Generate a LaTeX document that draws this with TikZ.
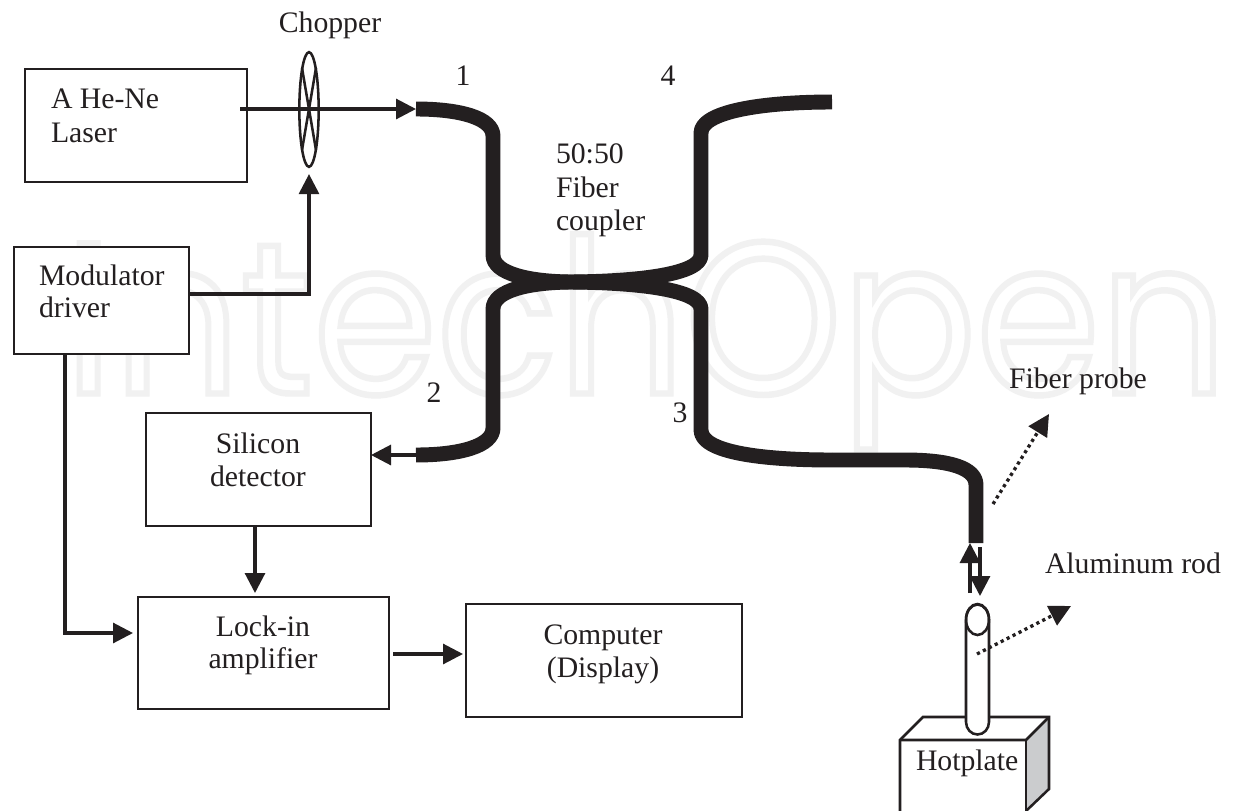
\documentclass[tikz,border=0pt]{standalone}
\usepackage{fontspec}
\setmainfont{Liberation Serif}
\newfontfamily\wmfont{Poppins}
\usetikzlibrary{arrows.meta,calc,shapes.geometric}
\definecolor{ink}{HTML}{231F20}
\definecolor{plategrey}{HTML}{CBCCCE}
\tikzset{
  boxnode/.style={draw=ink,line width=1.9pt,fill=white,inner sep=0pt,outer sep=0pt},
  lbl/.style={inner sep=0pt,outer sep=0pt,text=ink,font=\fontsize{22.3pt}{26pt}\selectfont},
  conn/.style={draw=ink,line width=2.3pt,-{Triangle[length=15pt,width=15pt,fill=ink]},shorten >=0pt},
  plainline/.style={draw=ink,line width=1.9pt},
  fiber/.style={draw=ink,line width=11.2pt,line cap=butt,line join=round},
  dotarrow/.style={draw=ink,line width=2.5pt,dash pattern=on 2.4pt off 2.6pt,-{Triangle[length=16pt,width=16pt,fill=ink]}},
}
\begin{document}
\begin{tikzpicture}[x=0.75pt,y=-0.75pt]
\useasboundingbox (0,0) rectangle (1233,811);
\clip (0,0) rectangle (1233,811);
\fill[white] (0,0) rectangle (1233,811);
% watermark
\node[inner sep=0pt,anchor=base west] (wm) at (64,393.5) {\resizebox{872pt}{119.5pt}{\wmfont\special{pdf:code q 1 Tr 0.3 w 0.945 0.945 0.945 RG}IntechOpen\special{pdf:code Q}}};
% boxes
\node[boxnode,minimum width=166.5pt,minimum height=84.75pt] (laser) at (136,125.5) {};
\node[boxnode,minimum width=131.25pt,minimum height=80.25pt] (mod) at (101.5,300.5) {};
\node[boxnode,minimum width=168.75pt,minimum height=84.75pt] (si) at (258.5,469.5) {};
\node[boxnode,minimum width=188.25pt,minimum height=84pt] (lock) at (263.5,653) {};
\node[boxnode,minimum width=207pt,minimum height=84.75pt] (comp) at (604,660.5) {};
% fiber end coordinates
\coordinate (f1) at (416,109);
\coordinate (f2) at (416,455);
\coordinate (f3) at (832,460);
\coordinate (f4) at (832,102);
\coordinate (fc) at (570,282);
\coordinate (probe) at (976,543);
% fibers
\draw[fiber] (f1) .. controls (460,109) and (493,118) .. (493,136) -- (493,255)
  .. controls (493,274) and (530,281.5) .. (fc);
\draw[fiber] (f4) .. controls (760,102) and (701,112) .. (701,133) -- (701,255)
  .. controls (701,274) and (640,281.5) .. (fc);
\draw[fiber] (f2) .. controls (460,455) and (493,446) .. (493,428) -- (493,309)
  .. controls (493,290) and (530,282.5) .. (fc);
\draw[fiber] (f3) .. controls (760,460) and (701,452) .. (701,430) -- (701,309)
  .. controls (701,290) and (640,282.5) .. (fc);
\draw[fiber] (f3) -- (905,460) .. controls (950,460) and (976,468) .. (976,485) -- (probe);
% chopper
\node[draw=ink,line width=1.9pt,ellipse,inner sep=0pt,minimum width=14.5pt,minimum height=86pt] (chop) at (309,109.5) {};
\draw[plainline] (302,68) -- (316,150);
\draw[plainline] (316,68) -- (302,150);
% connectors
\draw[conn] ($(laser.east)+(-7,-16.5)$) -- (f1);
\draw[conn] ($(mod.east)+(0,-6.5)$) -| ($(chop.south)+(0,6)$);
\draw[conn] ($(mod.south)+(-36.5,0)$) |- ($(lock.west)+(-5,-20)$);
\draw[conn] (f2) -- ($(si.east)+(0,-14.5)$);
\draw[conn] ($(si.south)+(-3.5,0)$) -- ($(lock.north)+(-8.5,-4)$);
\draw[conn] ($(lock.east)+(4,1)$) -- ($(comp.west)+(-3,-6.5)$);
% hotplate
\fill[plategrey] (1026,740) -- (1049,717) -- (1049,789) -- (1026,810) -- cycle;
\draw[plainline,line join=miter] (900,815) -- (900,740) -- (923,717) -- (1049,717) -- (1049,789) -- (1026,811);
\draw[plainline] (900,740) -- (1026,740) -- (1049,717);
\draw[plainline] (1026,740) -- (1026,815);
% rod
\draw[plainline,fill=white] (966,620) arc[start angle=180,end angle=360,x radius=11.5,y radius=15.5]
  -- (989,722) arc[start angle=0,end angle=180,x radius=11.5,y radius=12.5] -- cycle;
\node[draw=ink,line width=1.9pt,ellipse,inner sep=0pt,minimum width=17.25pt,minimum height=23.25pt] (rodtop) at (977.5,619.5) {};
\coordinate (rodmid) at (977,654);
\coordinate (probeside) at (993,504);
\coordinate (probetip) at (1049,414);
\coordinate (rodtip) at (1071,606);
% probe arrows
\draw[conn] (970,593) -- (970,543);
\draw[conn] (980,547) -- (980,596);
\draw[dotarrow] (probeside) -- (probetip);
\draw[dotarrow] (rodmid) -- (rodtip);
% labels
\node[lbl,anchor=base] (tchop) at (330,32) {Chopper};
\node[lbl,anchor=base west] (tl1) at (51,108) {A He-Ne};
\node[lbl,anchor=base west] (tl2) at (51,142) {Laser};
\node[lbl,anchor=base west] (tm1) at (39,285) {Modulator};
\node[lbl,anchor=base west] (tm2) at (39,317) {driver};
\node[lbl,anchor=base] (n1) at (463,85) {1};
\node[lbl,anchor=base] (n4) at (668,85) {4};
\node[lbl,anchor=base] (n2) at (434,402) {2};
\node[lbl,anchor=base] (n3) at (680,422) {3};
\node[lbl,anchor=base west] (tf1) at (556,163) {50:50};
\node[lbl,anchor=base west] (tf2) at (556,197) {Fiber};
\node[lbl,anchor=base west] (tf3) at (556,230) {coupler};
\node[lbl,anchor=base] (ts1) at (258,453) {Silicon};
\node[lbl,anchor=base] (ts2) at (258,486) {detector};
\node[lbl,anchor=base] (ta1) at (263,636) {Lock-in};
\node[lbl,anchor=base] (ta2) at (263,668) {amplifier};
\node[lbl,anchor=base] (tc1) at (603,644) {Computer};
\node[lbl,anchor=base] (tc2) at (603,677) {(Display)};
\node[lbl,anchor=base west] (tp) at (1009,388) {Fiber probe};
\node[lbl,anchor=base west] (tr) at (1045,573) {Aluminum rod};
\node[lbl,anchor=base west] (th) at (916,770) {Hotplate};
\end{tikzpicture}
\end{document}
